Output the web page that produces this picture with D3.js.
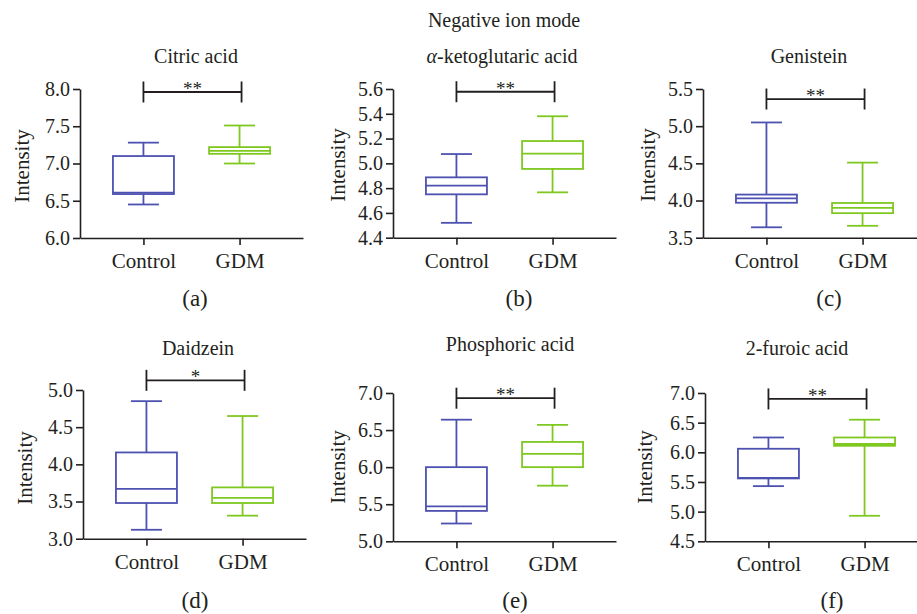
<!DOCTYPE html>
<html><head><meta charset="utf-8">
<script src="https://cdn.jsdelivr.net/npm/d3@7"></script>
</head><body style="margin:0;background:#fff">
<svg id="c" width="917" height="614" style="display:block"></svg>
<script>
const groups = ["Control", "GDM"];
const titles = ["Citric acid", "α-ketoglutaric acid", "Genistein", "Daidzein", "Phosphoric acid", "2-furoic acid"];
const panelLabels = ["(a)", "(b)", "(c)", "(d)", "(e)", "(f)"];
const significance = ["**", "**", "**", "*", "**", "**"];
const yDomains = [[6, 8], [4.4, 5.6], [3.5, 5.5], [3, 5], [5, 7], [4.5, 7]];
const yTickStep = [0.5, 0.2, 0.5, 0.5, 0.5, 0.5];
// [min, q1, median, q3, max]
const controlStats = [
  [6.45, 6.59, 6.61, 7.10, 7.28],
  [4.52, 4.75, 4.82, 4.887, 5.075],
  [3.64, 3.97, 4.03, 4.08, 5.05],
  [3.12, 3.48, 3.67, 4.16, 4.85],
  [5.24, 5.41, 5.47, 6.00, 6.64],
  [5.43, 5.56, 5.57, 6.06, 6.25]
];
const gdmStats = [
  [7.00, 7.13, 7.17, 7.22, 7.51],
  [4.766, 4.955, 5.078, 5.18, 5.38],
  [3.66, 3.83, 3.90, 3.967, 4.51],
  [3.31, 3.48, 3.55, 3.69, 4.65],
  [5.75, 6.00, 6.18, 6.34, 6.57],
  [4.93, 6.11, 6.14, 6.25, 6.55]
];
const bracketLevel = [7.96, 5.578, 5.365, 5.13, 6.93, 6.90];
const colors = {Control: "#4d52b1", GDM: "#7fc820"};

const FONT = '"Liberation Serif"';
const INK = "#231f20";
const svg = d3.select("#c");
svg.append("text").attr("x", 504).attr("y", 27).attr("text-anchor", "middle").attr("fill", INK)
  .style("font-size", "20px").style("font-family", FONT).text("Negative ion mode");

const layout = [
  {x0: 80, y0: 89, y1: 238, tx: 196, ty: 63, lx: 22, ly: 166, px: 195, py: 306},
  {x0: 393, y0: 89, y1: 237.7, tx: 502, ty: 63, lx: 338, ly: 165, px: 519, py: 306},
  {x0: 703, y0: 89, y1: 237.7, tx: 809, ty: 63, lx: 648, ly: 165, px: 829, py: 306},
  {x0: 83, y0: 390, y1: 538.7, tx: 198, ty: 355, lx: 25, ly: 468, px: 195, py: 608},
  {x0: 393, y0: 393, y1: 541.3, tx: 510, ty: 351, lx: 338, ly: 467, px: 515, py: 608},
  {x0: 705, y0: 393, y1: 541.3, tx: 797, ty: 355, lx: 645, ly: 467, px: 832, py: 608}
];
const boxW = 61, capW = 31;

layout.forEach((L, i) => {
  const g = svg.append("g");
  const y = d3.scaleLinear().domain(yDomains[i]).range([L.y1, L.y0]);
  const x = d3.scalePoint().domain(groups).range([L.x0, L.x0 + 223]).padding(0.66);
  const ticks = d3.range(yDomains[i][0], yDomains[i][1] + 1e-9, yTickStep[i]);
  const yAx = d3.axisLeft(y).tickValues(ticks).tickFormat(d3.format(".1f")).tickSize(7).tickPadding(3).tickSizeOuter(0);
  const xAx = d3.axisBottom(x).tickSize(7).tickPadding(8).tickSizeOuter(0);
  const ya = g.append("g").attr("transform", `translate(${L.x0},0)`).call(yAx);
  const xa = g.append("g").attr("transform", `translate(0,${L.y1})`).call(xAx);
  [ya, xa].forEach(a => {
    a.attr("font-family", null).attr("font-size", null);
    a.selectAll("path,line").attr("stroke", INK).attr("stroke-width", 1.6);
    a.selectAll("text").attr("fill", INK).style("font-family", FONT).style("font-size", "20px");
  });
  xa.selectAll("text").style("font-size", "21px");

  const stats = {Control: controlStats[i], GDM: gdmStats[i]};
  groups.forEach(k => {
    const s = stats[k], cx = x(k), c = colors[k];
    const bg = g.append("g").attr("stroke", c).attr("stroke-width", 1.8).attr("fill", "none");
    bg.append("line").attr("x1", cx).attr("x2", cx).attr("y1", y(s[0])).attr("y2", y(s[1]));
    bg.append("line").attr("x1", cx).attr("x2", cx).attr("y1", y(s[3])).attr("y2", y(s[4]));
    bg.append("line").attr("x1", cx - capW / 2).attr("x2", cx + capW / 2).attr("y1", y(s[0])).attr("y2", y(s[0]));
    bg.append("line").attr("x1", cx - capW / 2).attr("x2", cx + capW / 2).attr("y1", y(s[4])).attr("y2", y(s[4]));
    bg.append("rect").attr("x", cx - boxW / 2).attr("width", boxW).attr("y", y(s[3])).attr("height", y(s[1]) - y(s[3]));
    bg.append("line").attr("x1", cx - boxW / 2).attr("x2", cx + boxW / 2).attr("y1", y(s[2])).attr("y2", y(s[2]));
  });

  const by = y(bracketLevel[i]);
  const bx1 = x("Control"), bx2 = x("GDM") + 2;
  const br = g.append("g").attr("stroke", INK).attr("stroke-width", 1.8);
  br.append("line").attr("x1", bx1).attr("x2", bx2).attr("y1", by).attr("y2", by);
  br.append("line").attr("x1", bx1).attr("x2", bx1).attr("y1", by - 10.5).attr("y2", by + 10.5);
  br.append("line").attr("x1", bx2).attr("x2", bx2).attr("y1", by - 10.5).attr("y2", by + 10.5);
  g.append("text").attr("x", (bx1 + bx2) / 2).attr("y", by + 3).attr("text-anchor", "middle").attr("fill", INK)
    .style("font-size", "19px").style("font-family", FONT).text(significance[i]);

  const t = g.append("text").attr("x", L.tx).attr("y", L.ty).attr("text-anchor", "middle").attr("fill", INK)
    .style("font-size", "20px").style("font-family", FONT);
  if (i === 1) {
    t.append("tspan").attr("font-style", "italic").text("α");
    t.append("tspan").text("-ketoglutaric acid");
  } else t.text(titles[i]);
  g.append("text").attr("transform", `translate(${L.lx},${L.ly}) rotate(-90)`).attr("text-anchor", "middle").attr("fill", INK)
    .attr("dy", "0.35em").style("font-size", "21px").style("font-family", FONT).text("Intensity");
  g.append("text").attr("x", L.px).attr("y", L.py).attr("text-anchor", "middle").attr("fill", INK)
    .style("font-size", "23px").style("font-family", FONT).text(panelLabels[i]);
});
</script></body></html>
